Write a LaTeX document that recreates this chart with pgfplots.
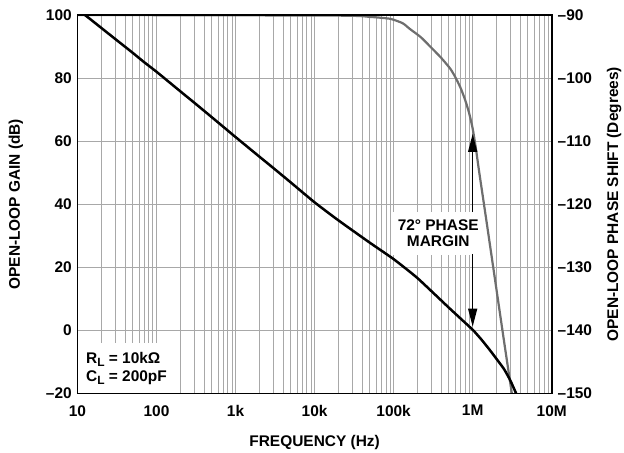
\documentclass[border=0pt]{standalone}
\usepackage{fontspec}
\setmainfont{Liberation Sans}
\usepackage{pgfplots}
\usepackage{pgfplotstable}
\pgfplotsset{compat=1.18}
\usetikzlibrary{arrows.meta}

\definecolor{gridgray}{gray}{0.66}
\definecolor{phasegray}{gray}{0.43}

\pgfplotstableread{
f g
12.4 100
15 98.4
20 95.9
30 92.4
50 88.0
70 85.0
100 82.0
200 75.8
300 72.2
500 67.6
1000 61.3
2000 55.1
3000 51.5
5000 46.9
10000 40.6
20000 34.9
50000 27.8
100000 22.6
200000 16.6
500000 7.2
1000000 0.2
1300000 -3.0
1600000 -5.8
2000000 -9.0
2500000 -12.3
3000000 -15.9
3550000 -20.0
}\gaindata

\pgfplotstableread{
f p
10 -90
20000 -90.1
50000 -90.3
90000 -90.6
130000 -91.3
160000 -92.2
220000 -93.5
290000 -95.0
400000 -96.8
520000 -98.5
600000 -99.8
700000 -101.5
800000 -103.4
900000 -105.5
1000000 -108.0
1100000 -111.2
1200000 -114.6
1500000 -122.8
2000000 -133.5
2500000 -141.8
3130000 -150
}\phasedata

\newcommand{\lbl}{\fontsize{15.5}{18}\selectfont\bfseries}

\begin{document}
\begin{tikzpicture}
\path[use as bounding box] (0,0) rectangle (624bp,453bp);
% phase axis (right) with grid
\begin{axis}[
  at={(77.5bp,59.5bp)}, anchor=south west,
  width=474.2bp, height=378.5bp, scale only axis,
  xmode=log, xmin=10, xmax=1e7,
  xtick={10,100,1000,10000,100000,1000000,10000000},
  major tick length=0pt, minor tick length=0pt,
  axis line style={line width=1.8bp, black},
  tick label style={font=\lbl},
  label style={font=\lbl},
  /pgf/number format/assume math mode=true,
  ymin=-150, ymax=-90,
  ytick={-150,-140,-130,-120,-110,-100,-90},
  yticklabels={–150,–140,–130,–120,–110,–100,–90},
  ytick pos=right,
  yticklabel style={xshift=2.5bp},
  xticklabels={},
  xmajorgrids, xminorgrids, ymajorgrids,
  grid style={gridgray, line width=0.9bp},
  minor grid style={gridgray, line width=0.9bp},
  ylabel={OPEN-LOOP PHASE SHIFT (Degrees)},
  ylabel style={at={(axis description cs:1.1398,0.5)}, anchor=base},
]
\addplot[phasegray, line width=2.2bp, line join=round, smooth, tension=0.35] table[x=f, y=p] {\phasedata};
\end{axis}
% gain axis (left)
\begin{axis}[
  at={(77.5bp,59.5bp)}, anchor=south west,
  width=474.2bp, height=378.5bp, scale only axis,
  xmode=log, xmin=10, xmax=1e7,
  xtick={10,100,1000,10000,100000,1000000,10000000},
  major tick length=0pt, minor tick length=0pt,
  axis line style={line width=1.8bp, black},
  tick label style={font=\lbl},
  label style={font=\lbl},
  /pgf/number format/assume math mode=true,
  ymin=-20, ymax=100,
  ytick={-20,0,20,40,60,80,100},
  yticklabels={–20,0,20,40,60,80,100},
  ytick pos=left,
  yticklabel style={xshift=-2.3bp},
  xtick pos=bottom,
  xticklabels={10,100,1k,10k,100k,1M,10M},
  xticklabel style={yshift=-8.3bp},
  xlabel={FREQUENCY (Hz)},
  xlabel style={at={(axis description cs:0.5,-0.1406)}, anchor=base},
  ylabel={OPEN-LOOP GAIN (dB)},
  ylabel style={at={(axis description cs:-0.1213,0.5)}, anchor=base},
]
\fill[white] ([xshift=1bp,yshift=1bp]rel axis cs:0,0) rectangle (rel axis cs:0.2056,0.1334);
\fill[white] (rel axis cs:0.6632,0.3659) rectangle (rel axis cs:0.8509,0.4795);
\node[anchor=base west, inner sep=0pt, font=\lbl] at (rel axis cs:0.0179,0.0798) {R{\fontsize{12}{12}\selectfont\raisebox{-0.25em}{L}} = 10kΩ};
\node[anchor=base west, inner sep=0pt, font=\lbl] at (rel axis cs:0.0179,0.0312) {C{\fontsize{12}{12}\selectfont\raisebox{-0.25em}{L}} = 200pF};
\node[anchor=base, inner sep=0pt, font=\lbl] at (rel axis cs:0.7607,0.430) {72° PHASE};
\node[anchor=base, inner sep=0pt, font=\lbl] at (rel axis cs:0.7607,0.3878) {MARGIN};
\draw[line width=1.3bp, -{Triangle[length=18bp,width=9bp]}] (axis cs:1e6,37.5) -- (axis cs:1e6,62.3);
\draw[line width=1.3bp, -{Triangle[length=18bp,width=9bp]}] (axis cs:1e6,24.3) -- (axis cs:1e6,1.2);
\addplot[black, line width=2.5bp, line join=round, smooth, tension=0.3] table[x=f, y=g] {\gaindata};
\end{axis}
\end{tikzpicture}
\end{document}
